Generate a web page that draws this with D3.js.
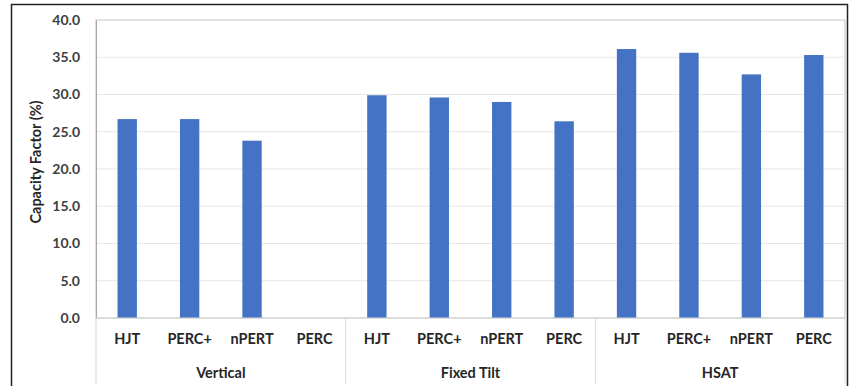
<!DOCTYPE html>
<html><head><meta charset="utf-8">
<script src="https://cdn.jsdelivr.net/npm/d3@7"></script>
<style>body{margin:0;background:#fff}svg{display:block}text{font-family:Lato,"Open Sans",sans-serif;font-weight:bold}</style>
</head><body>
<svg id="c" width="849" height="386"></svg>
<script>
const groups = ["Vertical","Fixed Tilt","HSAT"];
const techs = ["HJT","PERC+","nPERT","PERC"];
const vertical = [26.7, 26.7, 23.8, null];
const fixedTilt = [29.9, 29.6, 29.0, 26.4];
const hsat = [36.1, 35.6, 32.7, 35.3];
const yTicks = [0,5,10,15,20,25,30,35,40];

const seriesByGroup = [vertical, fixedTilt, hsat];
const data = [];
groups.forEach((g,gi)=>techs.forEach((t,ti)=>data.push({key:g+"|"+t, group:g, tech:t, value:seriesByGroup[gi][ti]})));

const svg = d3.select("#c");
const L=96, R=845, T=20, B=318;
const x = d3.scaleBand().domain(data.map(d=>d.key)).range([L,R]).paddingInner(0.69).paddingOuter(0.345);
const y = d3.scaleLinear().domain([0,40]).range([B,T]);

// outer frame
svg.append("path").attr("d",`M11.5,386 V4.5 H847.5 V386`).attr("fill","none").attr("stroke","#222").attr("stroke-width",1.5);

// plot box
svg.append("rect").attr("x",L).attr("y",T).attr("width",R-L).attr("height",B-T).attr("fill","none").attr("stroke","#bfbfbf");

// gridlines
svg.append("g").selectAll("line").data(yTicks.filter(v=>v>0)).join("line")
  .attr("x1",L).attr("x2",R).attr("y1",d=>y(d)).attr("y2",d=>y(d))
  .attr("stroke","#e6e6e6");

// y axis
const ya = svg.append("g").attr("transform",`translate(${L},0)`)
  .call(d3.axisLeft(y).tickValues(yTicks).tickFormat(d3.format(".1f")).tickSize(0).tickPadding(16));
ya.select(".domain").attr("stroke","#a6a6a6");
ya.selectAll("text").attr("font-size",14).attr("fill","#404040").attr("font-family","Lato,'Open Sans',sans-serif").attr("font-weight","bold");

// bars
svg.append("g").selectAll("rect").data(data.filter(d=>d.value!=null)).join("rect")
  .attr("x",d=>x(d.key)).attr("width",x.bandwidth())
  .attr("y",d=>y(d.value)).attr("height",d=>B-y(d.value))
  .attr("fill","#4472C4");

// baseline
svg.append("line").attr("x1",L).attr("x2",R).attr("y1",B).attr("y2",B).attr("stroke","#d9d9d9");

// category axis
const xa = svg.append("g").attr("transform",`translate(0,${B})`)
  .call(d3.axisBottom(x).tickFormat(k=>k.split("|")[1]).tickSize(0).tickPadding(15.5));
xa.select(".domain").remove();
xa.selectAll("text").attr("font-size",14.5).attr("fill","#262626").attr("font-family","Lato,'Open Sans',sans-serif").attr("font-weight","bold");

// group dividers and labels
const groupEdges = groups.map((g,i)=>L + i*(R-L)/groups.length).concat([R]);
svg.append("g").selectAll("line").data(groupEdges).join("line")
  .attr("x1",d=>d).attr("x2",d=>d).attr("y1",B).attr("y2",384)
  .attr("stroke","#d9d9d9");
svg.append("g").selectAll("text").data(groups).join("text")
  .attr("x",(g,i)=>(groupEdges[i]+groupEdges[i+1])/2).attr("y",378)
  .attr("text-anchor","middle").attr("font-size",14.5).attr("fill","#262626").text(d=>d);

// y label
svg.append("text").attr("transform",`translate(41,162) rotate(-90)`)
  .attr("text-anchor","middle").attr("font-size",14.5).attr("fill","#262626").text("Capacity Factor (%)");
</script>
</body></html>
